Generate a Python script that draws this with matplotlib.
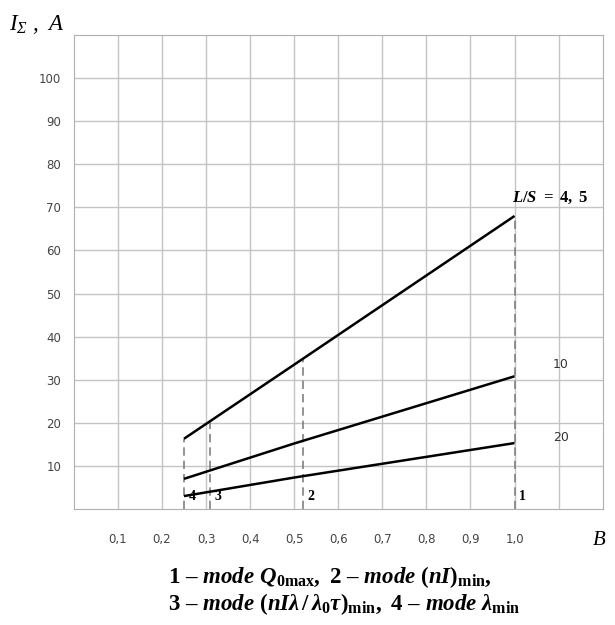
import matplotlib
matplotlib.use("Agg")
import matplotlib.pyplot as plt

plt.rcParams['mathtext.fontset'] = 'custom'
plt.rcParams['mathtext.rm'] = 'Liberation Serif:bold'
plt.rcParams['mathtext.it'] = 'Liberation Serif:italic:bold'
plt.rcParams['mathtext.bf'] = 'Liberation Serif:bold'
plt.rcParams['mathtext.sf'] = 'Liberation Serif:italic'

# curves I_sum(B) for L/S = 4.5, 10, 20
b_vals = [0.25, 0.5, 1.0]
i_45 = [16.3, 33.5, 68.0]
i_10 = [7.0, 15.2, 30.8]
i_20 = [3.0, 7.3, 15.3]
curve_labels = ["L/S = 4,5", "10", "20"]

# mode markers (dashed verticals)
mode_b = [1.0, 0.52, 0.31, 0.25]
mode_i = [68.0, 34.5, 20.2, 16.3]
mode_names = ["1", "2", "3", "4"]

xticks = [0.1, 0.2, 0.3, 0.4, 0.5, 0.6, 0.7, 0.8, 0.9, 1.0]
yticks = [10, 20, 30, 40, 50, 60, 70, 80, 90, 100]

fig = plt.figure(figsize=(6.15, 6.25), dpi=100)
ax = fig.add_axes([0.120, 0.1856, 0.860, 0.7584])

ax.set_xlim(0, 1.2)
ax.set_ylim(0, 110)
ax.set_xticks([i / 10 for i in range(1, 12)])
ax.set_yticks([i * 10 for i in range(1, 11)])
ax.grid(True, color='#c4c4c4', linewidth=1.0)
ax.set_axisbelow(True)
for s in ax.spines.values():
    s.set_color('#b0b0b0')
ax.tick_params(length=0, colors='#444444', labelsize=8.5)
ax.set_xticklabels([("%.1f" % v).replace('.', ',') for v in xticks] + [""], fontname='DejaVu Sans')
ax.set_yticklabels([str(v) for v in yticks], fontname='DejaVu Sans')
ax.tick_params(axis='x', pad=17)
ax.tick_params(axis='y', pad=9)

for bx, iy in zip(mode_b, mode_i):
    ax.plot([bx, bx], [0, iy], color='#808080', linestyle=(0, (5, 3)), linewidth=1.2)

for ys in (i_45, i_10, i_20):
    ax.plot(b_vals, ys, color='black', linewidth=1.8, solid_capstyle='butt')

ax.text(1.08, 72.3, r"$L/S\ =\ 4,\ 5$", fontsize=12, ha='center', va='center')
ax.text(1.105, 33.5, curve_labels[1], fontsize=9, color='#333333', ha='center', va='center', fontname='DejaVu Sans')
ax.text(1.105, 16.5, curve_labels[2], fontsize=9, color='#333333', ha='center', va='center', fontname='DejaVu Sans')

for bx, name in zip(mode_b, mode_names):
    ax.text(bx + 0.01, 2.8, name, fontsize=10, fontname='Liberation Serif', fontweight='bold',
            ha='left', va='center')

fig.text(0.985, 0.135, "B", fontsize=15, fontname='Liberation Serif', style='italic', ha='right', va='center')
fig.text(0.015, 0.96, r"$\mathsf{I_{\Sigma}\ ,\ A}$", fontsize=16.5, ha='left', va='center')

fig.text(0.273, 0.076, r"$\mathrm{1\ –\ }\mathit{mode\ Q}_{\mathrm{0max}}\mathrm{,\ 2\ –\ }\mathit{mode\ }\mathrm{(}\mathit{nI}\mathrm{)}_{\mathrm{min}}\mathrm{,}$",
         fontsize=16.5, ha='left', va='center')
fig.text(0.273, 0.033, r"$\mathrm{3\ –\ }\mathit{mode\ }\mathrm{(}\mathit{nI\lambda\,/\,\lambda}_{\mathrm{0}}\mathit{\tau}\mathrm{)}_{\mathrm{min}}\mathrm{,\ 4\ –\ }\mathit{mode\ \lambda}_{\mathrm{min}}$",
         fontsize=16.5, ha='left', va='center')

fig.savefig("out.png", dpi=100)
